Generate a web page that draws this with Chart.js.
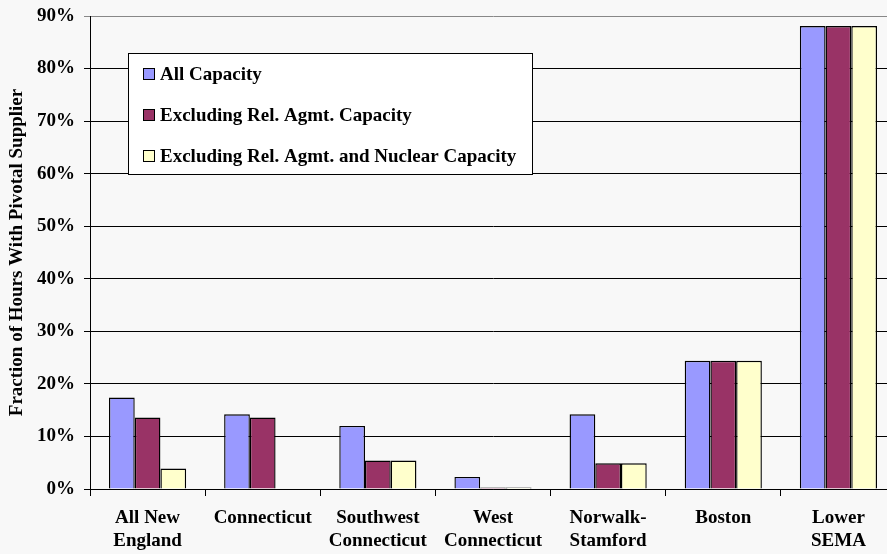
<!DOCTYPE html>
<html>
<head>
<meta charset="utf-8">
<script src="https://cdn.jsdelivr.net/npm/chart.js@4/dist/chart.umd.min.js"></script>
<style>
  html, body { margin: 0; padding: 0; background: #f8f8f8; overflow: hidden; }
  #wrap { width: 900px; height: 554px; }
</style>
</head>
<body>
<div id="wrap"><canvas id="c" width="900" height="554"></canvas></div>
<script>
// Regions (two-line labels as arrays)
const categories = [
  ["All New", "England"],
  ["Connecticut"],
  ["Southwest", "Connecticut"],
  ["West", "Connecticut"],
  ["Norwalk-", "Stamford"],
  ["Boston"],
  ["Lower", "SEMA"]
];

// Fraction of hours (%) with a pivotal supplier
const allCapacity      = [17.4, 14.2, 12.0, 2.3, 14.2, 24.4, 88.1];
const exclRelAgmt      = [13.6, 13.6, 5.4, 0.3, 4.9, 24.4, 88.1];
const exclRelAgmtNuke  = [3.9, 0.0, 5.4, 0.3, 4.9, 24.4, 88.1];

const seriesNames = [
  "All Capacity",
  "Excluding Rel. Agmt. Capacity",
  "Excluding Rel. Agmt. and Nuclear Capacity"
];

const yTicks = [0, 10, 20, 30, 40, 50, 60, 70, 80, 90];
const yTitle = "Fraction of Hours With Pivotal Supplier";

const FONT = "'Liberation Serif', 'Times New Roman', serif";

// Boxed legend drawn inside the plot area
const boxedLegend = {
  id: 'boxedLegend',
  afterDraw(chart) {
    const ctx = chart.ctx;
    const x0 = 128, y0 = 53, w = 404, h = 121;
    ctx.save();
    ctx.fillStyle = '#ffffff';
    ctx.fillRect(x0, y0, w, h);
    ctx.strokeStyle = '#000000';
    ctx.lineWidth = 1;
    ctx.strokeRect(x0 + 0.5, y0 + 0.5, w, h);
    ctx.font = "bold 19px " + FONT;
    ctx.textBaseline = 'middle';
    chart.data.datasets.forEach((ds, i) => {
      const cy = 74 + i * 41;
      ctx.fillStyle = ds.backgroundColor;
      ctx.fillRect(143, cy - 6, 12, 12);
      ctx.strokeStyle = '#000';
      ctx.strokeRect(143.5, cy - 5.5, 11, 11);
      ctx.fillStyle = '#000';
      ctx.fillText(ds.label, 160, cy + 1);
    });
    ctx.restore();
  }
};

new Chart(document.getElementById('c'), {
  type: 'bar',
  data: {
    labels: categories,
    datasets: [
      { label: seriesNames[0], data: allCapacity, backgroundColor: '#9999ff' },
      { label: seriesNames[1], data: exclRelAgmt, backgroundColor: '#993366' },
      { label: seriesNames[2], data: exclRelAgmtNuke, backgroundColor: '#ffffcc' }
    ].map(d => Object.assign(d, {
      borderColor: '#000000',
      borderWidth: 1.4,
      categoryPercentage: 0.67,
      barPercentage: 1.0
    }))
  },
  options: {
    responsive: false,
    animation: false,
    layout: { padding: { top: 16, right: 4, left: 0, bottom: 0 } },
    plugins: {
      legend: { display: false },
      tooltip: { enabled: false }
    },
    scales: {
      x: {
        offset: true,
        grid: {
          offset: true,
          drawOnChartArea: false,
          drawTicks: true,
          tickLength: 7,
          color: '#000000'
        },
        border: { color: '#000000', width: 1 },
        ticks: {
          color: '#000000',
          font: { family: FONT, size: 19, weight: 'bold', lineHeight: 1.2 },
          maxRotation: 0,
          autoSkip: false,
          padding: 11
        },
        afterFit(scale) { scale.height = 65; scale.paddingLeft = 0; scale.paddingRight = 0; }
      },
      y: {
        min: 0,
        max: 90,
        afterBuildTicks(scale) { scale.ticks = yTicks.map(v => ({ value: v })); },
        grid: {
          color: (ctx) => ctx.tick && ctx.tick.value === 90 ? '#888888' : '#000000',
          tickLength: 6,
          drawTicks: true
        },
        border: { color: '#000000', width: 1 },
        ticks: {
          color: '#000000',
          font: { family: FONT, size: 19, weight: 'bold' },
          padding: 9,
          callback: (v) => v + '%'
        },
        title: {
          display: true,
          text: yTitle,
          color: '#000000',
          font: { family: FONT, size: 19, weight: 'bold' },
          padding: { top: 6, bottom: 4 }
        },
        afterFit(scale) { scale.width = 90; scale.paddingTop = 0; scale.paddingBottom = 0; }
      }
    }
  },
  plugins: [boxedLegend]
});
</script>
</body>
</html>
